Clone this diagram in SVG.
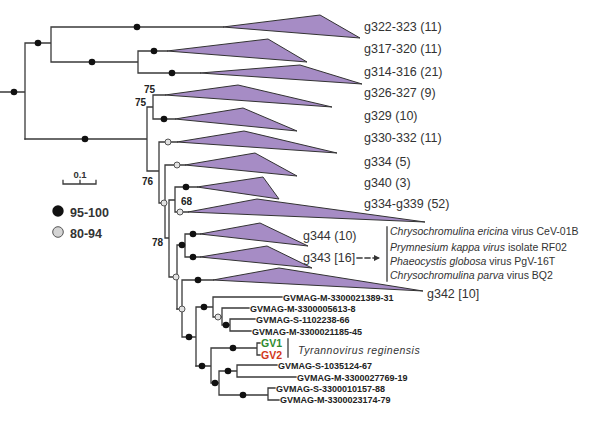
<svg xmlns="http://www.w3.org/2000/svg" width="610" height="441" viewBox="0 0 610 441">
<style>
.br{fill:none;stroke:#3a3a3a;stroke-width:1.3;stroke-linecap:square}
.tri{fill:#a68cc5;stroke:#333;stroke-width:1;stroke-linejoin:miter}
.bd{fill:#111}
.hd{fill:#e2e2e2;stroke:#555;stroke-width:1}
.lab{font-family:"Liberation Sans",Arial,sans-serif;font-size:12.5px;fill:#333}
.bs{font-family:"Liberation Sans",Arial,sans-serif;font-size:10px;font-weight:bold;fill:#222}
.gv{font-family:"Liberation Sans",Arial,sans-serif;font-size:9px;font-weight:bold;fill:#222}
.sp{font-family:"Liberation Sans",Arial,sans-serif;font-size:10.5px;fill:#333}
.it{font-style:italic}
</style>
<defs>
<marker id="ah" viewBox="0 0 6 6" refX="5" refY="3" markerWidth="5" markerHeight="5" orient="auto"><path d="M0,0 L6,3 L0,6 Z" fill="#333"/></marker>
</defs>
<rect width="610" height="441" fill="#fff"/>
<g id="connectors">
<path class="br" d="M0,92 H25 M25,43 V139 M25,43 H51 M51,27 V62 M51,27 H223 M51,62 H138 M138,51 V73 M138,51 H167 M138,73 H200"/>
<path class="br" d="M25,139 H147 M147,107 V171 M147,107 H153 M153,95 V119 M153,95 H165 M153,119 H175 M147,171 H159 M159,142 V203 M159,142 H177 M159,203 H165"/>
<path class="br" d="M165,165 V238 M165,165 H185 M165,238 H169 M169,200 V277 M169,200 H175 M175,187 V212 M175,187 H197 M175,212 H188 M169,277 H177 M177,245 V309 M177,245 H185 M185,234 V257 M185,234 H200 M185,257 H200"/>
<path class="br" d="M177,309 H182 M182,280 V337 M182,280 H213 M182,337 H196 M196,307 V366 M196,307 H213 M213,297 V317 M213,297 H282 M213,317 H222 M222,308 V325 M222,308 H249 M222,325 H230 M230,319 V331 M230,319 H255 M230,331 H251"/>
<path class="br" d="M196,366 H211 M211,348 V383 M211,348 H257 M257,343 V355 M257,343 H260 M257,355 H260 M211,383 H219 M219,371 V395 M219,371 H237 M237,365 V377 M237,365 H277 M237,377 H296 M219,395 H268 M268,388 V400 M268,388 H275 M268,400 H279"/>
<path class="br" d="M357,258 H379" stroke-dasharray="5,3" marker-end="url(#ah)"/>
</g>
<g id="g322-323"><polygon class="tri" points="223,27 320,15 360,38"/><text class="lab" x="364" y="30.5">g322-323 (11)</text></g>
<g id="g317-320"><polygon class="tri" points="167,51 268,39 307,62"/><text class="lab" x="364" y="53">g317-320 (11)</text></g>
<g id="g314-316"><polygon class="tri" points="200,73 300,65 362,84"/><text class="lab" x="364" y="75.5">g314-316 (21)</text></g>
<g id="g326-327"><polygon class="tri" points="165,95 238,85 332,107"/><text class="lab" x="364" y="97">g326-327 (9)</text></g>
<g id="g329"><polygon class="tri" points="175,119 243,108 297,131"/><text class="lab" x="364" y="119.5">g329 (10)</text></g>
<g id="g330-332"><polygon class="tri" points="177,142 244,131 337,153"/><text class="lab" x="364" y="142">g330-332 (11)</text></g>
<g id="g334"><polygon class="tri" points="185,165 255,153 297,176"/><text class="lab" x="364" y="165.5">g334 (5)</text></g>
<g id="g340"><polygon class="tri" points="197,187 263,177 279,199"/><text class="lab" x="364" y="186.5">g340 (3)</text></g>
<g id="g334-g339"><polygon class="tri" points="188,212 257,199 425,222"/><text class="lab" x="364" y="207.5">g334-g339 (52)</text></g>
<g id="g344"><polygon class="tri" points="200,234 260,223 308,246"/><text class="lab" x="303" y="239.5">g344 (10)</text></g>
<g id="g343"><polygon class="tri" points="200,257 267,246 312,268"/><text class="lab" x="303" y="261.5">g343 [16]</text></g>
<g id="g342"><polygon class="tri" points="213,280 279,268 423,291"/><text class="lab" x="427" y="297.5">g342 [10]</text></g>
<g id="g343-members">
<path class="br" d="M387,227 V281"/>
<text class="sp" x="390" y="235"><tspan class="it">Chrysochromulina ericina</tspan> virus CeV-01B</text>
<text class="sp" x="390" y="251"><tspan class="it">Prymnesium kappa virus</tspan> isolate RF02</text>
<text class="sp" x="390" y="265"><tspan class="it">Phaeocystis globosa</tspan> virus PgV-16T</text>
<text class="sp" x="390" y="279"><tspan class="it">Chrysochromulina parva</tspan> virus BQ2</text>
</g>
<g id="leaves">
<text class="gv" x="283" y="300.5">GVMAG-M-3300021389-31</text>
<text class="gv" x="250" y="311.5">GVMAG-M-3300005613-8</text>
<text class="gv" x="256" y="322.5">GVMAG-S-1102238-66</text>
<text class="gv" x="252" y="334.5">GVMAG-M-3300021185-45</text>
<text class="gv" x="278" y="368.5">GVMAG-S-1035124-67</text>
<text class="gv" x="297" y="380.5">GVMAG-M-3300027769-19</text>
<text class="gv" x="276" y="391.5">GVMAG-S-3300010157-88</text>
<text class="gv" x="280" y="402.5">GVMAG-M-3300023174-79</text>
</g>
<g id="tyrannovirus">
<text x="261" y="347" font-family="Liberation Sans,Arial,sans-serif" font-size="10.5" font-weight="bold" fill="#2e8b2e">GV1</text>
<text x="261" y="359" font-family="Liberation Sans,Arial,sans-serif" font-size="10.5" font-weight="bold" fill="#d2381a">GV2</text>
<path class="br" d="M288,339 V357"/>
<text class="sp it" x="298" y="354" font-size="13.5" letter-spacing="0.5">Tyrannovirus reginensis</text>
</g>
<g id="support-dots">
<circle class="bd" cx="14" cy="92" r="3.3"/>
<circle class="bd" cx="38" cy="43" r="3.3"/>
<circle class="bd" cx="137" cy="27" r="3.3"/>
<circle class="bd" cx="92" cy="62" r="3.3"/>
<circle class="bd" cx="154" cy="51" r="3.3"/>
<circle class="bd" cx="172" cy="73" r="3.3"/>
<circle class="bd" cx="85" cy="139" r="3.3"/>
<circle class="bd" cx="164" cy="119" r="3.3"/>
<circle class="hd" cx="168" cy="142" r="3"/>
<circle class="hd" cx="164" cy="203" r="3"/>
<circle class="hd" cx="177" cy="165" r="3"/>
<circle class="bd" cx="186" cy="187" r="3.3"/>
<circle class="hd" cx="180" cy="212" r="3"/>
<circle class="bd" cx="182" cy="245" r="3.3"/>
<circle class="bd" cx="193" cy="234" r="3.3"/>
<circle class="bd" cx="193" cy="257" r="3.3"/>
<circle class="hd" cx="176" cy="277" r="3"/>
<circle class="bd" cx="198" cy="280" r="3.3"/>
<circle class="hd" cx="182" cy="309" r="3"/>
<circle class="bd" cx="189" cy="337" r="3.3"/>
<circle class="bd" cx="204" cy="307" r="3.3"/>
<circle class="hd" cx="218" cy="317" r="3"/>
<circle class="bd" cx="226" cy="325" r="3.3"/>
<circle class="bd" cx="202" cy="366" r="3.3"/>
<circle class="bd" cx="233" cy="348" r="3.3"/>
<circle class="bd" cx="215" cy="383" r="3.3"/>
<circle class="bd" cx="228" cy="371" r="3.3"/>
<circle class="bd" cx="243" cy="395" r="3.3"/>
</g>
<g id="support-labels">
<text class="bs" x="144" y="93">75</text>
<text class="bs" x="135" y="106">75</text>
<text class="bs" x="142" y="185">76</text>
<text class="bs" x="181" y="205">68</text>
<text class="bs" x="152" y="246">78</text>
</g>
<g id="scale-bar">
<path class="br" d="M63,184 H96 M63,180.5 V184 M80,180.5 V184 M96,180.5 V184" stroke-width="1"/>
<text x="80" y="178" text-anchor="middle" font-family="Liberation Sans,Arial,sans-serif" font-size="9.5" font-weight="bold" fill="#333">0.1</text>
</g>
<g id="legend">
<circle class="bd" cx="58" cy="211" r="5.7"/>
<text x="70" y="216.5" font-family="Liberation Sans,Arial,sans-serif" font-size="12.5" font-weight="bold" fill="#333">95-100</text>
<circle cx="58" cy="232" r="5.3" fill="#d4d4d4" stroke="#555" stroke-width="1"/>
<text x="70" y="237.5" font-family="Liberation Sans,Arial,sans-serif" font-size="12.5" font-weight="bold" fill="#333">80-94</text>
</g>
</svg>
